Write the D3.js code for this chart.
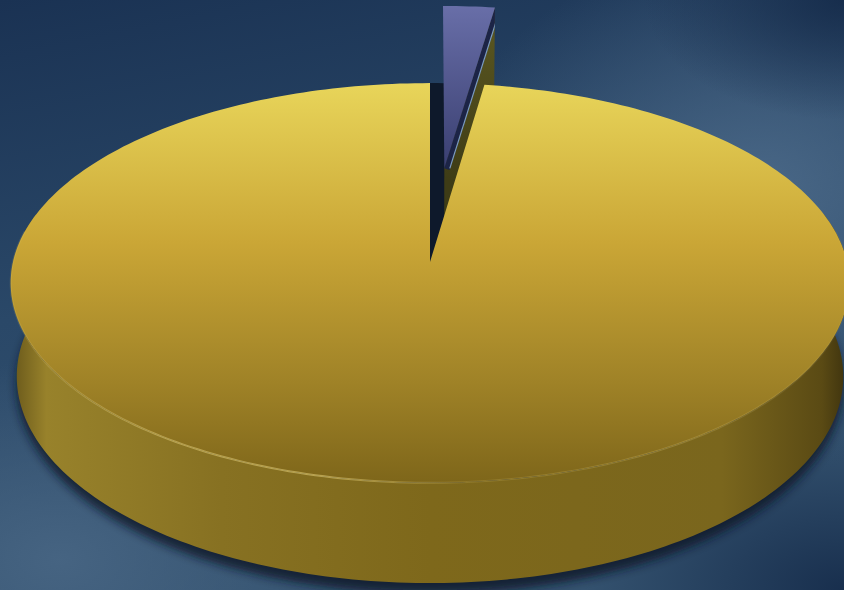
<!DOCTYPE html>
<html>
<head>
<meta charset="utf-8">
<script src="https://cdn.jsdelivr.net/npm/d3@7"></script>
<style>
  html, body { margin: 0; padding: 0; background: #24405f; overflow: hidden; }
  #chart { width: 844px; height: 590px; }
</style>
</head>
<body>
<div id="chart"></div>
<script>
/* 3D pie: one big slice and one small exploded slice */

const names = ["Small", "Large"];
const values = [2.3, 97.7];
const colors = ["#565c96", "#d2b23c"];
const explode = [0.5, 0];

const width = 844,
      height = 590;

// camera / projection settings
const cx = 430, cy = 262, k = 417;
const tilt = Math.asin(0.474), dist = 8.4, depth = 0.257;

function proj(X, H, Z) {
    const yv = H * Math.cos(tilt) + Z * Math.sin(tilt);
    const zv = Z * Math.cos(tilt) - H * Math.sin(tilt);
    const s = 1 / (1 + zv / dist);
    return [cx + k * X * s, cy - k * yv * s];
}

let svg = d3.select("#chart")
            .append("svg")
            .attr("width", width)
            .attr("height", height)
            .attr("viewBox", [0, 0, width, height]);

const defs = svg.append("defs");

/* background gradients */
const bg = defs.append("linearGradient").attr("id", "bg")
    .attr("x1", 0).attr("y1", 0).attr("x2", 0.3).attr("y2", 1);
bg.append("stop").attr("offset", 0).attr("stop-color", "#1a3253");
bg.append("stop").attr("offset", 0.5).attr("stop-color", "#2a4868");
bg.append("stop").attr("offset", 1).attr("stop-color", "#34526f");

function glow(id, color, op) {
    const g = defs.append("radialGradient").attr("id", id)
        .attr("cx", 0.5).attr("cy", 0.5).attr("r", 0.5);
    g.append("stop").attr("offset", 0).attr("stop-color", color).attr("stop-opacity", op);
    g.append("stop").attr("offset", 1).attr("stop-color", color).attr("stop-opacity", 0);
}
glow("glowR", "#4f6d8c", 0.85);
glow("glowL", "#486684", 0.9);
glow("darkTR", "#152b4a", 0.9);

svg.append("rect").attr("width", width).attr("height", height).attr("fill", "url(#bg)");
svg.append("ellipse").attr("cx", 760).attr("cy", 190).attr("rx", 320).attr("ry", 240).attr("fill", "url(#glowR)");
svg.append("ellipse").attr("cx", 60).attr("cy", 560).attr("rx", 300).attr("ry", 200).attr("fill", "url(#glowL)");
svg.append("ellipse").attr("cx", 844).attr("cy", 0).attr("rx", 200).attr("ry", 120).attr("fill", "url(#darkTR)");
svg.append("ellipse").attr("cx", 844).attr("cy", 590).attr("rx", 260).attr("ry", 160).attr("fill", "url(#darkTR)");

/* shading for the faces */
const topGrad = defs.append("linearGradient").attr("id", "topGrad")
    .attr("gradientUnits", "userSpaceOnUse")
    .attr("x1", 0).attr("y1", proj(0, 0, 1)[1]).attr("x2", 0).attr("y2", proj(0, 0, -1)[1]);
[[0, "#e8d55a"], [0.4, "#caa636"], [0.75, "#9f8227"], [1, "#7e661a"]].forEach(([o, c]) =>
    topGrad.append("stop").attr("offset", o).attr("stop-color", c));

const sideGrad = defs.append("linearGradient").attr("id", "sideGrad")
    .attr("gradientUnits", "userSpaceOnUse")
    .attr("x1", proj(-1, 0, 0)[0]).attr("y1", 0).attr("x2", proj(1, 0, 0)[0]).attr("y2", 0);
[[0, "#6a591b"], [0.04, "#98822b"], [0.25, "#877122"], [0.5, "#7e681b"], [0.85, "#7a661d"], [0.97, "#5a4a14"], [1, "#3e330e"]].forEach(([o, c]) =>
    sideGrad.append("stop").attr("offset", o).attr("stop-color", c));

const blueGrad = defs.append("linearGradient").attr("id", "blueGrad")
    .attr("gradientUnits", "userSpaceOnUse")
    .attr("x1", 0).attr("y1", 0).attr("x2", 0).attr("y2", 180);
blueGrad.append("stop").attr("offset", 0).attr("stop-color", "#6a70aa");
blueGrad.append("stop").attr("offset", 1).attr("stop-color", "#363b6c");

const oliveGrad = defs.append("linearGradient").attr("id", "oliveGrad")
    .attr("gradientUnits", "userSpaceOnUse")
    .attr("x1", 0).attr("y1", 0).attr("x2", 0).attr("y2", 180);
oliveGrad.append("stop").attr("offset", 0).attr("stop-color", "#5e5a22");
oliveGrad.append("stop").attr("offset", 1).attr("stop-color", "#3e3c16");

const rimGrad = defs.append("linearGradient").attr("id", "rimGrad")
    .attr("gradientUnits", "userSpaceOnUse")
    .attr("x1", 0).attr("y1", 0).attr("x2", width).attr("y2", 0);
[[0, 0.1], [0.2, 0.5], [0.38, 0.55], [0.55, 0.15], [0.8, 0.25], [1, 0.05]].forEach(([o, a]) =>
    rimGrad.append("stop").attr("offset", o).attr("stop-color", "#e8d27a").attr("stop-opacity", a));

const blur = defs.append("filter").attr("id", "blur")
    .attr("x", -0.2).attr("y", -0.2).attr("width", 1.4).attr("height", 1.4);
blur.append("feGaussianBlur").attr("stdDeviation", 5);

/* pie layout */
const pie = d3.pie().sort(null).value(d => d)(values);
const line = d3.line().curve(d3.curveLinearClosed);

function rimPoints(a0, a1, H, off) {
    const n = Math.max(2, Math.ceil(Math.abs(a1 - a0) / 0.02));
    return d3.range(n + 1).map(i => {
        const a = a0 + (a1 - a0) * i / n;
        return proj(off[0] + Math.sin(a), H, off[1] + Math.cos(a));
    });
}

function offset(p, i) {
    const mid = (p.startAngle + p.endAngle) / 2;
    return [explode[i] * Math.sin(mid), explode[i] * Math.cos(mid)];
}

/* shadow under the pie */
svg.append("path")
   .attr("d", line(rimPoints(0, 2 * Math.PI, -depth - 0.02, [0, -0.01])))
   .attr("fill", "#0c1626")
   .attr("opacity", 0.8)
   .attr("filter", "url(#blur)");

/* outer side of the big slice (front part) */
const big = pie[1];
let front = rimPoints(Math.PI * 0.42, Math.PI * 1.58, 0, [0, 0])
    .concat(rimPoints(Math.PI * 1.58, Math.PI * 0.42, -depth, [0, 0]));
svg.append("path")
   .attr("d", line(front))
   .attr("fill", "url(#sideGrad)");

/* hole left by the exploded slice */
const small = pie[0];
svg.append("path")
   .attr("d", line([proj(0, 0, 0)].concat(rimPoints(small.startAngle, small.endAngle, 0, [0, 0]))))
   .attr("fill", "#0e192b");

/* the exploded small slice */
const off = offset(small, 0);
const c0 = proj(off[0], 0, off[1]);
const c1 = proj(off[0], -depth, off[1]);
const e0 = [off[0] + Math.sin(small.endAngle), off[1] + Math.cos(small.endAngle)];
const r0 = proj(e0[0], 0, e0[1]);
const r1 = proj(e0[0], -depth, e0[1]);

// right cut face
const face = [c0, r0, r1, c1];
defs.append("clipPath").attr("id", "faceClip")
    .append("path").attr("d", line(face));
svg.append("path")
   .attr("d", line(face))
   .attr("fill", "url(#oliveGrad)");
const cut = svg.append("g").attr("clip-path", "url(#faceClip)");
cut.append("path")
   .attr("d", d3.line()([c0, r0]))
   .attr("stroke", "#1c2446")
   .attr("stroke-width", 11)
   .attr("fill", "none");
cut.append("path")
   .attr("d", d3.line()([c0, r0]))
   .attr("transform", "translate(5.5,0)")
   .attr("stroke", "#7c9cc0")
   .attr("stroke-width", 1.2)
   .attr("fill", "none");

// top face
svg.append("path")
   .attr("d", line([c0].concat(rimPoints(small.startAngle, small.endAngle, 0, off))))
   .attr("fill", "url(#blueGrad)");

/* top face of the big slice */
svg.append("path")
   .attr("d", line([proj(0, 0, 0)].concat(rimPoints(big.startAngle, big.endAngle, 0, [0, 0]))))
   .attr("fill", "url(#topGrad)");

/* rim highlight */
svg.append("path")
   .attr("d", d3.line()(rimPoints(Math.PI * 0.45, Math.PI * 1.55, 0, [0, 0])))
   .attr("stroke", "url(#rimGrad)")
   .attr("stroke-width", 2)
   .attr("fill", "none");
</script>
</body>
</html>
